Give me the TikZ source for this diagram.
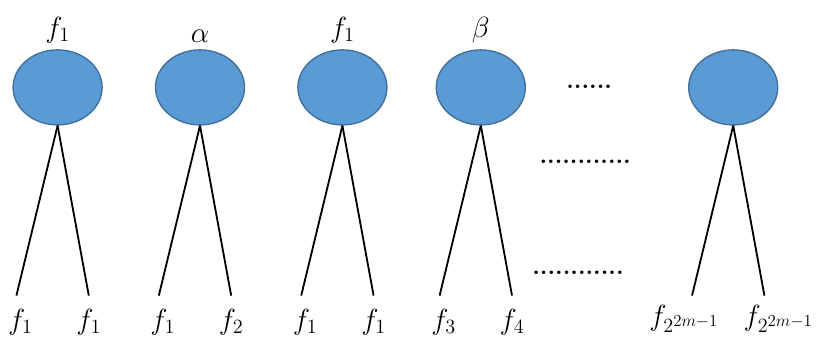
\documentclass[tikz,border=0pt]{standalone}
\usetikzlibrary{positioning, shapes.geometric}
\definecolor{nodeblue}{RGB}{91,155,213}
\definecolor{nodeedge}{RGB}{65,113,156}

\begin{document}
\begin{tikzpicture}[
  bubble/.style={ellipse, draw=nodeedge, fill=nodeblue, line width=1pt, minimum width=2.225cm, minimum height=1.875cm, inner sep=0pt},
  branch/.style={line width=1.3pt, color=black},
  lab/.style={font=\huge, inner sep=1pt},
  dotrow/.style={font=\LARGE\bfseries, inner sep=0pt},
]
  \useasboundingbox (0,0) rectangle (20.6,8.675);

  % roots
  \node[bubble] (r1) at (1.44,6.49) {};
  \node[bubble, right=1.3cm of r1] (r2) {};
  \node[bubble, right=1.3cm of r2] (r3) {};
  \node[bubble, right=1.2cm of r3] (r4) {};
  \node[bubble, right=4.05cm of r4] (r5) {};

  \node[lab, above=0.12cm of r1] (t1) {$f_1$};
  \node[lab, above=0.12cm of r2] (t2) {$\alpha$};
  \node[lab, above=0.12cm of r3] (t3) {$f_1$};
  \node[lab, above=0.12cm of r4] (t4) {$\beta$};

  % leaf ends
  \foreach \i in {1,...,5} {
    \coordinate[below left=4.25cm and 1.03cm of r\i.south] (l\i);
    \coordinate[below right=4.25cm and 0.78cm of r\i.south] (r\i e);
    \draw[branch] (r\i.south) -- (l\i);
    \draw[branch] (r\i.south) -- (r\i e);
  }

  % leaves
  \node[lab, below=0.3cm of l1, xshift=0.1cm] (b1) {$f_1$};
  \node[lab, below=0.3cm of r1e] (c1) {$f_1$};
  \node[lab, below=0.3cm of l2, xshift=0.1cm] (b2) {$f_1$};
  \node[lab, below=0.3cm of r2e] (c2) {$f_2$};
  \node[lab, below=0.3cm of l3, xshift=0.1cm] (b3) {$f_1$};
  \node[lab, below=0.3cm of r3e] (c3) {$f_1$};
  \node[lab, below=0.3cm of l4, xshift=0.1cm] (b4) {$f_3$};
  \node[lab, below=0.3cm of r4e] (c4) {$f_4$};
  \node[lab, below=0.2cm of l5, xshift=-0.2cm] (b5) {$f_{2^{2m-1}}$};
  \node[lab, below=0.2cm of r5e, xshift=0.35cm] (c5) {$f_{2^{2m-1}}$};

  % dots
  \node[dotrow] (d1) at (14.73,6.5) {......};
  \node[dotrow] (d2) at (14.63,4.63) {............};
  \node[dotrow] (d3) at (14.45,1.85) {............};
\end{tikzpicture}
\end{document}
